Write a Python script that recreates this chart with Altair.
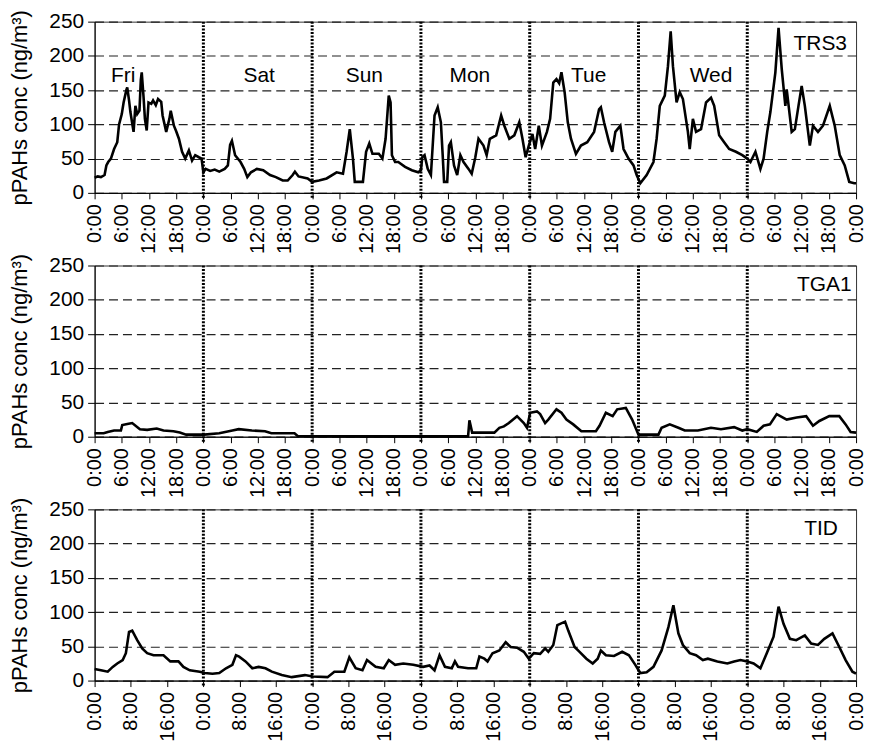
import altair as alt
import pandas as pd

# ---------------- data (hours since Fri 0:00, concentration ng/m3) ----------------
trs3_hours = [0, 0.7, 1.4, 2.2, 2.6, 3.0, 3.6, 4.3, 5.0, 5.4, 6.0, 6.4, 7.0, 7.2, 7.6, 7.9, 8.6, 9.0, 9.4, 9.9,
              10.2, 10.4, 10.8, 11.1, 11.5, 11.9, 12.5, 12.9, 13.5, 14.0, 14.7, 15.0, 15.8, 16.5, 16.8, 17.5, 18.0,
              18.6, 19.3, 20.0, 20.8, 21.5, 22.2, 23.0, 23.6, 24.0, 24.5, 25.5, 26.5, 27.5, 28.7, 29.4, 29.9, 30.3,
              31.0, 32.2, 33.0, 33.7, 34.5, 35.8, 37.2, 38.7, 40.0, 41.5, 42.6, 43.7, 44.2, 45.0, 47.0, 48.0, 49.5,
              51.2, 53.4, 54.8, 55.6, 56.3, 57.0, 57.4, 59.2, 59.9, 60.6, 61.3, 62.7, 63.5, 64.2, 64.9, 65.3, 65.6,
              66.3, 67.0, 68.5, 70.0, 71.4, 72.0, 72.3, 72.8, 73.5, 74.2, 75.0, 75.7, 76.4, 76.8, 77.1, 77.8, 78.2,
              78.6, 79.3, 80.0, 80.7, 81.4, 82.5, 83.2, 84.0, 84.7, 85.8, 86.5, 87.2, 88.6, 89.7, 90.4, 91.5, 92.6,
              93.7, 94.4, 95.1, 95.8, 96.6, 97.2, 98.0, 98.7, 99.8, 100.5, 101.2, 101.9, 102.5, 103.0, 103.7, 104.4,
              105.1, 106.2, 107.3, 108.7, 110.2, 111.3, 111.7, 112.4, 113.5, 114.2, 114.9, 116.0, 116.7, 117.8,
              118.9, 119.6, 120.4, 121.8, 123.3, 124.0, 124.7, 125.8, 126.5, 127.1, 127.6, 128.4, 129.1, 129.8,
              130.9, 131.3, 132.0, 132.7, 133.8, 134.9, 136.0, 136.7, 137.8, 138.9, 140.0, 141.5, 142.9, 144.0,
              144.7, 145.8, 146.9, 147.6, 148.4, 149.1, 150.2, 150.9, 151.6, 152.4, 152.7, 153.8, 154.5, 155.3,
              156.0, 156.7, 157.8, 158.5, 159.6, 160.7, 162.2, 163.3, 164.4, 165.5, 166.5, 167.6, 168.0]
trs3_values = [22, 24, 23, 26, 40, 45, 50, 64, 74, 100, 115, 132, 150, 154, 135, 118, 89, 127, 115, 120,
               165, 176, 140, 108, 91, 132, 130, 135, 128, 137, 133, 113, 89, 108, 120, 98, 90,
               79, 60, 50, 62, 47, 55, 52, 50, 30, 35, 32, 34, 31, 35, 40, 70, 76,
               55, 45, 35, 23, 30, 35, 33, 26, 23, 18, 18, 26, 31, 24, 21, 16, 18,
               21, 30, 28, 60, 93, 50, 16, 16, 60, 72, 57, 57, 50, 79, 142, 132, 55,
               45, 45, 38, 33, 30, 33, 52, 55, 35, 26, 113, 125, 103, 55, 16, 16, 69,
               74, 40, 26, 55, 45, 35, 28, 52, 79, 69, 55, 79, 84, 113, 98, 79, 84,
               103, 79, 52, 69, 86, 64, 98, 69, 89, 108, 161, 166, 160, 176, 147, 103,
               79, 57, 69, 74, 89, 122, 125, 103, 74, 60, 89, 98, 64, 50,
               40, 26, 14, 26, 45, 79, 127, 142, 185, 236, 185, 132, 147, 137,
               89, 64, 108, 89, 93, 132, 139, 127, 84, 74, 64, 60, 55, 50,
               45, 60, 35, 50, 89, 118, 176, 241, 181, 127, 151, 89, 93, 127,
               156, 127, 69, 98, 89, 98, 127, 98, 55, 40, 16, 14, 14]

tga1_hours = [0, 2, 2.9, 4.3, 5.8, 6.1, 7.5, 8.3, 10, 11.6, 13.7, 15.2, 17.4, 18.8, 20.2, 24.2, 27.5, 30.4, 31.8,
              34.7, 37.6, 39, 44.1, 44.8, 60, 82.4, 82.7, 83.3, 88.2, 89.3, 90.3, 91.4, 93.2, 94.7, 95.4, 96.1,
              97.6, 98.3, 99.4, 100.1, 101.9, 103, 104.1, 105.6, 107.4, 110.6, 111.4, 112.8, 114.3, 115.3, 117.2,
              118.6, 120, 124.4, 125.1, 126.9, 128.8, 130.2, 133.1, 136, 138.2, 141.1, 142.9, 144, 146.1, 147.6,
              149, 150.5, 152.7, 154.9, 157, 158.5, 159.9, 162.1, 164.3, 165.7, 166.8, 168]
tga1_values = [5, 5, 7, 9, 9, 17, 19, 20, 11, 10, 12, 9, 8, 6, 3, 3, 5, 9, 11,
               9, 8, 5, 5, 1, 0.5, 0.5, 24, 6, 6, 13, 15, 20, 30, 20, 13, 35,
               37, 33, 20, 25, 40, 35, 25, 18, 8, 8, 16, 35, 30, 40, 42,
               25, 3, 3, 13, 18, 13, 9, 9, 13, 11, 14, 9, 11, 7, 16,
               18, 33, 25, 28, 30, 16, 23, 30, 30, 18, 7, 6]

tid_hours = [0, 1.4, 2.9, 4, 5, 6.2, 6.9, 7.6, 8.3, 9.4, 10.5, 11.6, 13, 15.2, 16.7, 18.5, 19.6, 21, 23.2, 24.3,
             26, 27.5, 29, 30.4, 31.2, 31.9, 33.3, 34.8, 36.2, 37.7, 39.1, 41.3, 43.5, 46.4, 48.2, 51.4, 52.9,
             55.1, 56.2, 57.6, 59.1, 60.1, 62, 63.8, 64.9, 66.3, 68.1, 70.3, 72.5, 73.9, 75, 76.1, 77.3, 78.8,
             79.5, 80.2, 82.4, 84.2, 84.9, 86, 86.7, 87.8, 89.3, 90.7, 91.8, 93.2, 94.7, 95.8, 96.9, 98.3, 99.4,
             100.1, 101.2, 102.1, 103.8, 104.5, 105.9, 107, 108.5, 109.9, 111, 111.7, 112.8, 114.6, 116.4, 117.9,
             119.3, 120.4, 121.8, 123.3, 125.1, 126.6, 127.7, 128.8, 129.8, 131.3, 132.7, 134.2, 135.3, 137.4,
             139.6, 141.1, 142.5, 144, 145.4, 146.9, 148.3, 149.8, 150.9, 152, 153.4, 154.8, 156.7, 158.1, 159.6,
             161, 162.8, 164.3, 165.7, 167.2, 168]
tid_values = [17, 15, 13, 20, 25, 30, 40, 71, 73, 59, 47, 40, 37, 37, 28, 28, 20, 15, 13, 11,
              10, 11, 18, 23, 37, 35, 28, 18, 20, 18, 13, 8, 5, 8, 6, 5, 13,
              13, 34, 18, 15, 30, 20, 18, 30, 23, 25, 23, 20, 22, 15, 37, 20, 18,
              28, 20, 18, 18, 35, 32, 28, 40, 44, 56, 49, 48, 42, 32, 40, 39, 47,
              42, 52, 81, 86, 73, 49, 42, 32, 25, 32, 44, 37, 36, 42, 37,
              23, 11, 12, 20, 44, 78, 110, 69, 52, 40, 37, 30, 32, 28,
              25, 28, 30, 28, 25, 18, 40, 64, 108, 83, 61, 59, 66, 54, 52,
              61, 69, 49, 30, 13, 10]

day_names = ["Fri", "Sat", "Sun", "Mon", "Tue", "Wed"]
day_label_hours = [6.3, 36.3, 59.5, 82.8, 109.0, 136.0]
day_label_values = [170, 170, 170, 170, 170, 170]

divider_hours = [24, 48, 72, 96, 120, 144]

site_names = ["TRS3", "TGA1", "TID"]
site_label_hours = [166.0, 167.0, 164.0]
site_label_values = [217, 222, 222]

y_ticks = [0, 50, 100, 150, 200, 250]
FONT = "Liberation Sans"
W, H = 765, 172


def panel(hours, values, idx, step, days=False):
    df = pd.DataFrame({"h": hours, "v": values})
    x_enc = alt.X("h:Q", scale=alt.Scale(domain=[0, 168], nice=False, zero=False),
                  axis=alt.Axis(values=list(range(0, 169, step)),
                                labelExpr="(datum.value % 24) + ':00'",
                                labelAngle=270, labelAlign="right", labelBaseline="middle",
                                labelFlush=False, labelOverlap=False, grid=False, title=None,
                                tickSize=6, labelPadding=5, labelFontSize=20))
    y_enc = alt.Y("v:Q", scale=alt.Scale(domain=[0, 250], nice=False),
                  axis=alt.Axis(values=y_ticks, grid=True, gridDash=[9, 5], gridColor="#222",
                                gridWidth=1.2, title="pPAHs conc (ng/m³)", tickSize=7,
                                labelPadding=4, titlePadding=17, labelOverlap=False,
                                labelFlush=False, labelFontSize=21))
    line = alt.Chart(df).mark_line(color="black", strokeWidth=2.6).encode(x=x_enc, y=y_enc)
    div = alt.Chart(pd.DataFrame({"h": divider_hours})).mark_rule(
        color="black", strokeWidth=3, strokeDash=[2, 1.5]).encode(
        x=x_enc, y=alt.value(0), y2=alt.value(H + 6))
    site = alt.Chart(pd.DataFrame({"h": [site_label_hours[idx]], "v": [site_label_values[idx]],
                                   "t": [site_names[idx]]})).mark_text(
        font=FONT, fontSize=21, align="right", baseline="middle", color="black").encode(
        x=x_enc, y=y_enc, text="t:N")
    layers = [div, line, site]
    if days:
        dl = alt.Chart(pd.DataFrame({"h": day_label_hours, "v": day_label_values, "t": day_names})).mark_text(
            font=FONT, fontSize=21, align="center", baseline="middle", color="black").encode(
            x=x_enc, y=y_enc, text="t:N")
        layers.append(dl)
    return alt.layer(*layers).properties(width=W, height=H)


p1 = panel(trs3_hours, trs3_values, 0, 6, days=True)
p2 = panel(tga1_hours, tga1_values, 1, 6)
p3 = panel(tid_hours, tid_values, 2, 8)

chart = alt.vconcat(p1, p2, p3, spacing=73, bounds="flush").properties(
    padding={"left": 0, "top": -1, "right": 0, "bottom": -2},
    background="white",
).configure_view(stroke="#333", strokeWidth=1).configure_axis(
    labelFont=FONT, labelColor="black",
    titleFont=FONT, titleFontSize=22, titleFontWeight="normal", titleColor="black",
    domainColor="black", domainWidth=1, tickColor="black", tickWidth=1,
)

chart.save("out.html", embed_options={"renderer": "svg", "actions": False})
